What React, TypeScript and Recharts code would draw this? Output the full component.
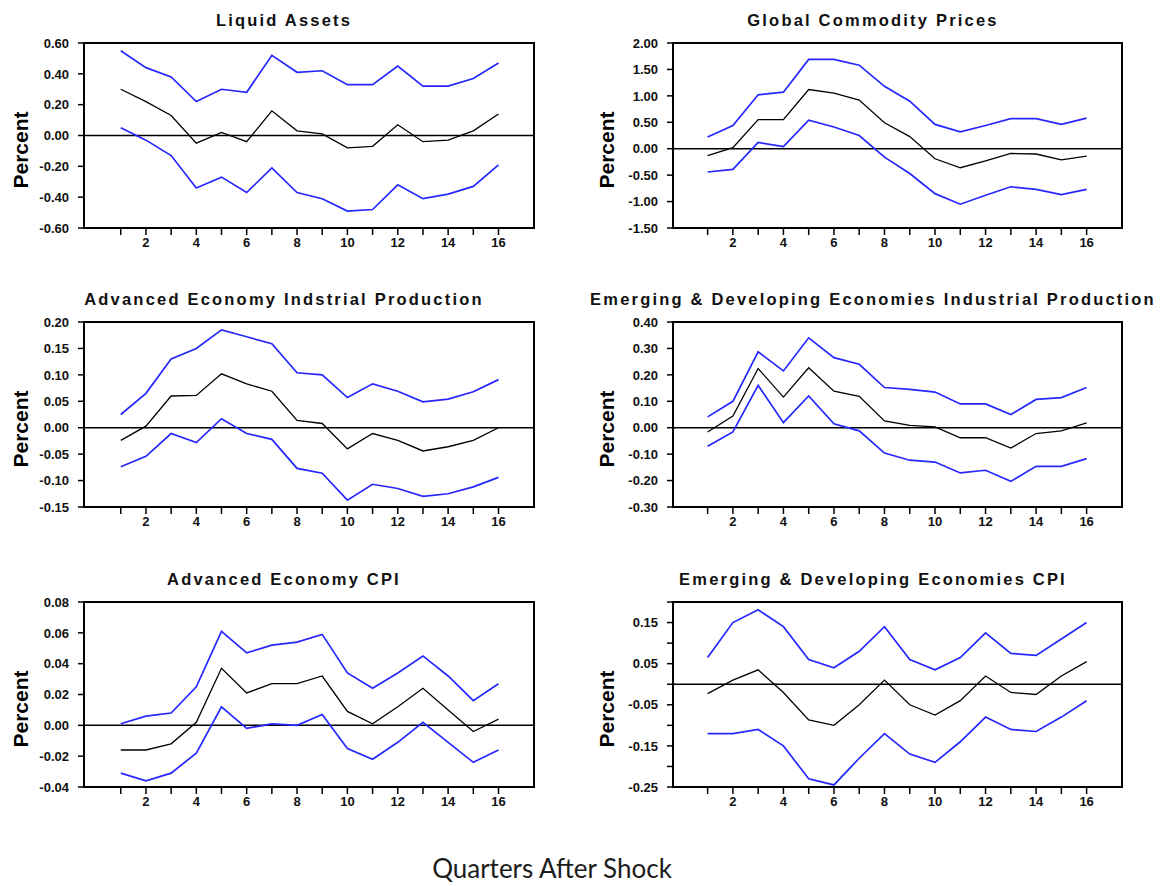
import React from 'react';
import { LineChart, Line, XAxis, YAxis, ReferenceLine, ReferenceArea } from 'recharts';

const quarters = [1, 2, 3, 4, 5, 6, 7, 8, 9, 10, 11, 12, 13, 14, 15, 16];

// Liquid Assets
const liquidUpper = [0.55, 0.44, 0.38, 0.22, 0.3, 0.28, 0.52, 0.41, 0.42, 0.33, 0.33, 0.45, 0.32, 0.32, 0.37, 0.47];
const liquidMid = [0.3, 0.22, 0.13, -0.05, 0.02, -0.04, 0.16, 0.03, 0.01, -0.08, -0.07, 0.07, -0.04, -0.03, 0.03, 0.14];
const liquidLower = [0.05, -0.03, -0.13, -0.34, -0.27, -0.37, -0.21, -0.37, -0.41, -0.49, -0.48, -0.32, -0.41, -0.38, -0.33, -0.19];
const liquidTicks = [-0.6, -0.4, -0.2, 0, 0.2, 0.4, 0.6];

// Global Commodity Prices
const commodUpper = [0.22, 0.44, 1.02, 1.07, 1.69, 1.69, 1.58, 1.18, 0.9, 0.46, 0.32, 0.44, 0.57, 0.57, 0.46, 0.58];
const commodMid = [-0.13, 0.02, 0.55, 0.55, 1.12, 1.05, 0.92, 0.49, 0.23, -0.19, -0.36, -0.23, -0.09, -0.1, -0.21, -0.14];
const commodLower = [-0.44, -0.39, 0.12, 0.04, 0.54, 0.41, 0.25, -0.16, -0.47, -0.85, -1.05, -0.88, -0.72, -0.77, -0.87, -0.77];
const commodTicks = [-1.5, -1, -0.5, 0, 0.5, 1, 1.5, 2];

// Advanced Economy Industrial Production
const advIpUpper = [0.025, 0.065, 0.13, 0.15, 0.185, 0.172, 0.159, 0.104, 0.1, 0.057, 0.083, 0.069, 0.049, 0.054, 0.068, 0.091];
const advIpMid = [-0.024, 0.003, 0.06, 0.061, 0.102, 0.083, 0.069, 0.014, 0.008, -0.04, -0.011, -0.024, -0.044, -0.036, -0.024, 0];
const advIpLower = [-0.074, -0.054, -0.011, -0.028, 0.017, -0.011, -0.022, -0.077, -0.086, -0.137, -0.107, -0.115, -0.13, -0.125, -0.112, -0.094];
const advIpTicks = [-0.15, -0.1, -0.05, 0, 0.05, 0.1, 0.15, 0.2];

// Emerging & Developing Economies Industrial Production
const emIpUpper = [0.041, 0.1, 0.287, 0.215, 0.34, 0.265, 0.24, 0.152, 0.145, 0.135, 0.09, 0.09, 0.05, 0.107, 0.114, 0.152];
const emIpMid = [-0.016, 0.044, 0.224, 0.116, 0.227, 0.138, 0.119, 0.026, 0.009, 0.003, -0.038, -0.038, -0.077, -0.022, -0.012, 0.018];
const emIpLower = [-0.07, -0.016, 0.16, 0.019, 0.12, 0.015, -0.012, -0.096, -0.123, -0.13, -0.171, -0.161, -0.203, -0.146, -0.146, -0.117];
const emIpTicks = [-0.3, -0.2, -0.1, 0, 0.1, 0.2, 0.3, 0.4];

// Advanced Economy CPI
const advCpiUpper = [0.001, 0.006, 0.008, 0.025, 0.061, 0.047, 0.052, 0.054, 0.059, 0.034, 0.024, 0.034, 0.045, 0.032, 0.016, 0.027];
const advCpiMid = [-0.016, -0.016, -0.012, 0.002, 0.037, 0.021, 0.027, 0.027, 0.032, 0.009, 0.001, 0.012, 0.024, 0.01, -0.004, 0.004];
const advCpiLower = [-0.031, -0.036, -0.031, -0.018, 0.012, -0.002, 0.001, 0, 0.007, -0.015, -0.022, -0.011, 0.002, -0.011, -0.024, -0.016];
const advCpiTicks = [-0.04, -0.02, 0, 0.02, 0.04, 0.06, 0.08];

// Emerging & Developing Economies CPI
const emCpiUpper = [0.065, 0.15, 0.181, 0.14, 0.06, 0.04, 0.08, 0.14, 0.06, 0.035, 0.065, 0.125, 0.075, 0.07, 0.11, 0.15];
const emCpiMid = [-0.023, 0.01, 0.035, -0.02, -0.087, -0.1, -0.05, 0.01, -0.05, -0.075, -0.04, 0.02, -0.02, -0.025, 0.02, 0.055];
const emCpiLower = [-0.12, -0.12, -0.11, -0.15, -0.23, -0.245, -0.18, -0.12, -0.17, -0.19, -0.14, -0.08, -0.11, -0.115, -0.08, -0.04];
const emCpiTicks = [-0.25, -0.2, -0.15, -0.1, -0.05, 0, 0.05, 0.1, 0.15, 0.2];
const emCpiLabels = [-0.25, -0.15, -0.05, 0.05, 0.15];

const buildRows = (upper: number[], mid: number[], lower: number[]) =>
  quarters.map((q, i) => ({ q, upper: upper[i], mid: mid[i], lower: lower[i] }));

const tickFont = "'Liberation Sans Narrow', 'Arial Narrow', 'Liberation Sans', Arial, sans-serif";
const BLUE = '#2626ff';

const XTick = (props: any) => {
  const { x, y, payload } = props;
  if (payload.value % 2 !== 0) return null;
  return (
    <text x={x} y={y} dy="0.72em" textAnchor="middle" fontFamily={tickFont} fontWeight="bold" fontSize={13} fill="#111">
      {payload.value}
    </text>
  );
};

const YTick = (props: any) => {
  const { x, y, payload, labels } = props;
  const v = payload.value;
  if (labels && !labels.some((l: number) => Math.abs(l - v) < 1e-9)) return null;
  return (
    <text x={x} y={y} dy="0.36em" textAnchor="end" fontFamily={tickFont} fontWeight="bold" fontSize={13} fill="#111">
      {v.toFixed(2)}
    </text>
  );
};

type PanelProps = {
  title: string;
  rows: any[];
  yTicks: number[];
  yLabels?: number[];
  frameX: number;
  frameY: number;
  frameW: number;
  xDomain: [number, number];
  titleX: number;
  percentX: number;
};

const Panel = ({ title, rows, yTicks, yLabels, frameX, frameY, frameW, xDomain, titleX, percentX }: PanelProps) => {
  const H = 185;
  const padL = 70;
  const padT = 10;
  const padB = 30;
  const padR = 10;
  const yDomain: [number, number] = [yTicks[0], yTicks[yTicks.length - 1]];
  return (
    <>
      <div
        style={{
          position: 'absolute',
          left: titleX - 320,
          width: 640,
          top: frameY - 32,
          textAlign: 'center',
          fontFamily: "'Liberation Sans', Arial, sans-serif",
          fontWeight: 'bold',
          fontSize: 16.5,
          letterSpacing: 2.2,
          color: '#111',
          whiteSpace: 'nowrap',
        }}
      >
        {title}
      </div>
      <div
        style={{
          position: 'absolute',
          left: percentX,
          top: frameY + 107,
          transform: 'translate(-50%, -50%) rotate(-90deg)',
          fontFamily: "'Liberation Sans', Arial, sans-serif",
          fontWeight: 'bold',
          fontSize: 21,
          color: '#000',
          whiteSpace: 'nowrap',
        }}
      >
        Percent
      </div>
      <div style={{ position: 'absolute', left: frameX - padL, top: frameY - padT }}>
        <LineChart
          width={frameW + padL + padR}
          height={H + padT + padB}
          data={rows}
          margin={{ top: padT, right: padR, bottom: 0, left: 0 }}
        >
          <XAxis
            dataKey="q"
            type="number"
            domain={xDomain}
            ticks={quarters}
            interval={0}
            allowDataOverflow
            height={padB}
            tickSize={7}
            tickMargin={3}
            tickLine={{ stroke: '#000', strokeWidth: 1.5 }}
            axisLine={{ stroke: '#000', strokeWidth: 2 }}
            tick={<XTick />}
          />
          <YAxis
            type="number"
            domain={yDomain}
            ticks={yTicks}
            interval={0}
            allowDataOverflow
            width={padL}
            tickSize={6}
            tickMargin={9}
            tickLine={{ stroke: '#000', strokeWidth: 1.5 }}
            axisLine={{ stroke: '#000', strokeWidth: 2 }}
            tick={<YTick labels={yLabels} />}
          />
          {/* box frame around the plot */}
          <ReferenceArea
            x1={xDomain[0]}
            x2={xDomain[1]}
            y1={yDomain[0]}
            y2={yDomain[1]}
            fill="none"
            fillOpacity={0}
            stroke="#000"
            strokeWidth={2}
            ifOverflow="visible"
          />
          <ReferenceLine y={0} stroke="#000" strokeWidth={1.5} />
          <Line type="linear" dataKey="upper" stroke={BLUE} strokeWidth={1.7} dot={false} isAnimationActive={false} />
          <Line type="linear" dataKey="mid" stroke="#000" strokeWidth={1.3} dot={false} isAnimationActive={false} />
          <Line type="linear" dataKey="lower" stroke={BLUE} strokeWidth={1.7} dot={false} isAnimationActive={false} />
        </LineChart>
      </div>
    </>
  );
};

const LEFT = { frameX: 83.5, frameW: 450, xDomain: [-0.46, 17.41] as [number, number], titleX: 284, percentX: 21 };
const RIGHT = { frameX: 672.5, frameW: 449, xDomain: [-0.37, 17.4] as [number, number], titleX: 873, percentX: 607 };
const ROWS = [43, 322, 602];

export default function App() {
  return (
    <div style={{ position: 'absolute', left: 0, top: 0, width: 1169, height: 886, background: '#fff', overflow: 'hidden' }}>
      <Panel title="Liquid Assets" rows={buildRows(liquidUpper, liquidMid, liquidLower)} yTicks={liquidTicks} frameY={ROWS[0]} {...LEFT} />
      <Panel title="Global Commodity Prices" rows={buildRows(commodUpper, commodMid, commodLower)} yTicks={commodTicks} frameY={ROWS[0]} {...RIGHT} />
      <Panel title="Advanced Economy Indstrial Production" rows={buildRows(advIpUpper, advIpMid, advIpLower)} yTicks={advIpTicks} frameY={ROWS[1]} {...LEFT} />
      <Panel title="Emerging & Developing Economies Industrial Production" rows={buildRows(emIpUpper, emIpMid, emIpLower)} yTicks={emIpTicks} frameY={ROWS[1]} {...RIGHT} />
      <Panel title="Advanced Economy CPI" rows={buildRows(advCpiUpper, advCpiMid, advCpiLower)} yTicks={advCpiTicks} frameY={ROWS[2]} {...LEFT} />
      <Panel title="Emerging & Developing Economies CPI" rows={buildRows(emCpiUpper, emCpiMid, emCpiLower)} yTicks={emCpiTicks} yLabels={emCpiLabels} frameY={ROWS[2]} {...RIGHT} />
      <div
        style={{
          position: 'absolute',
          left: 552 - 200,
          width: 400,
          top: 855,
          height: 26,
          lineHeight: '26px',
          textAlign: 'center',
          fontFamily: "Lato, 'Noto Sans', sans-serif",
          fontSize: 26,
          color: '#1c1c1c',
        }}
      >
        Quarters After Shock
      </div>
    </div>
  );
}
